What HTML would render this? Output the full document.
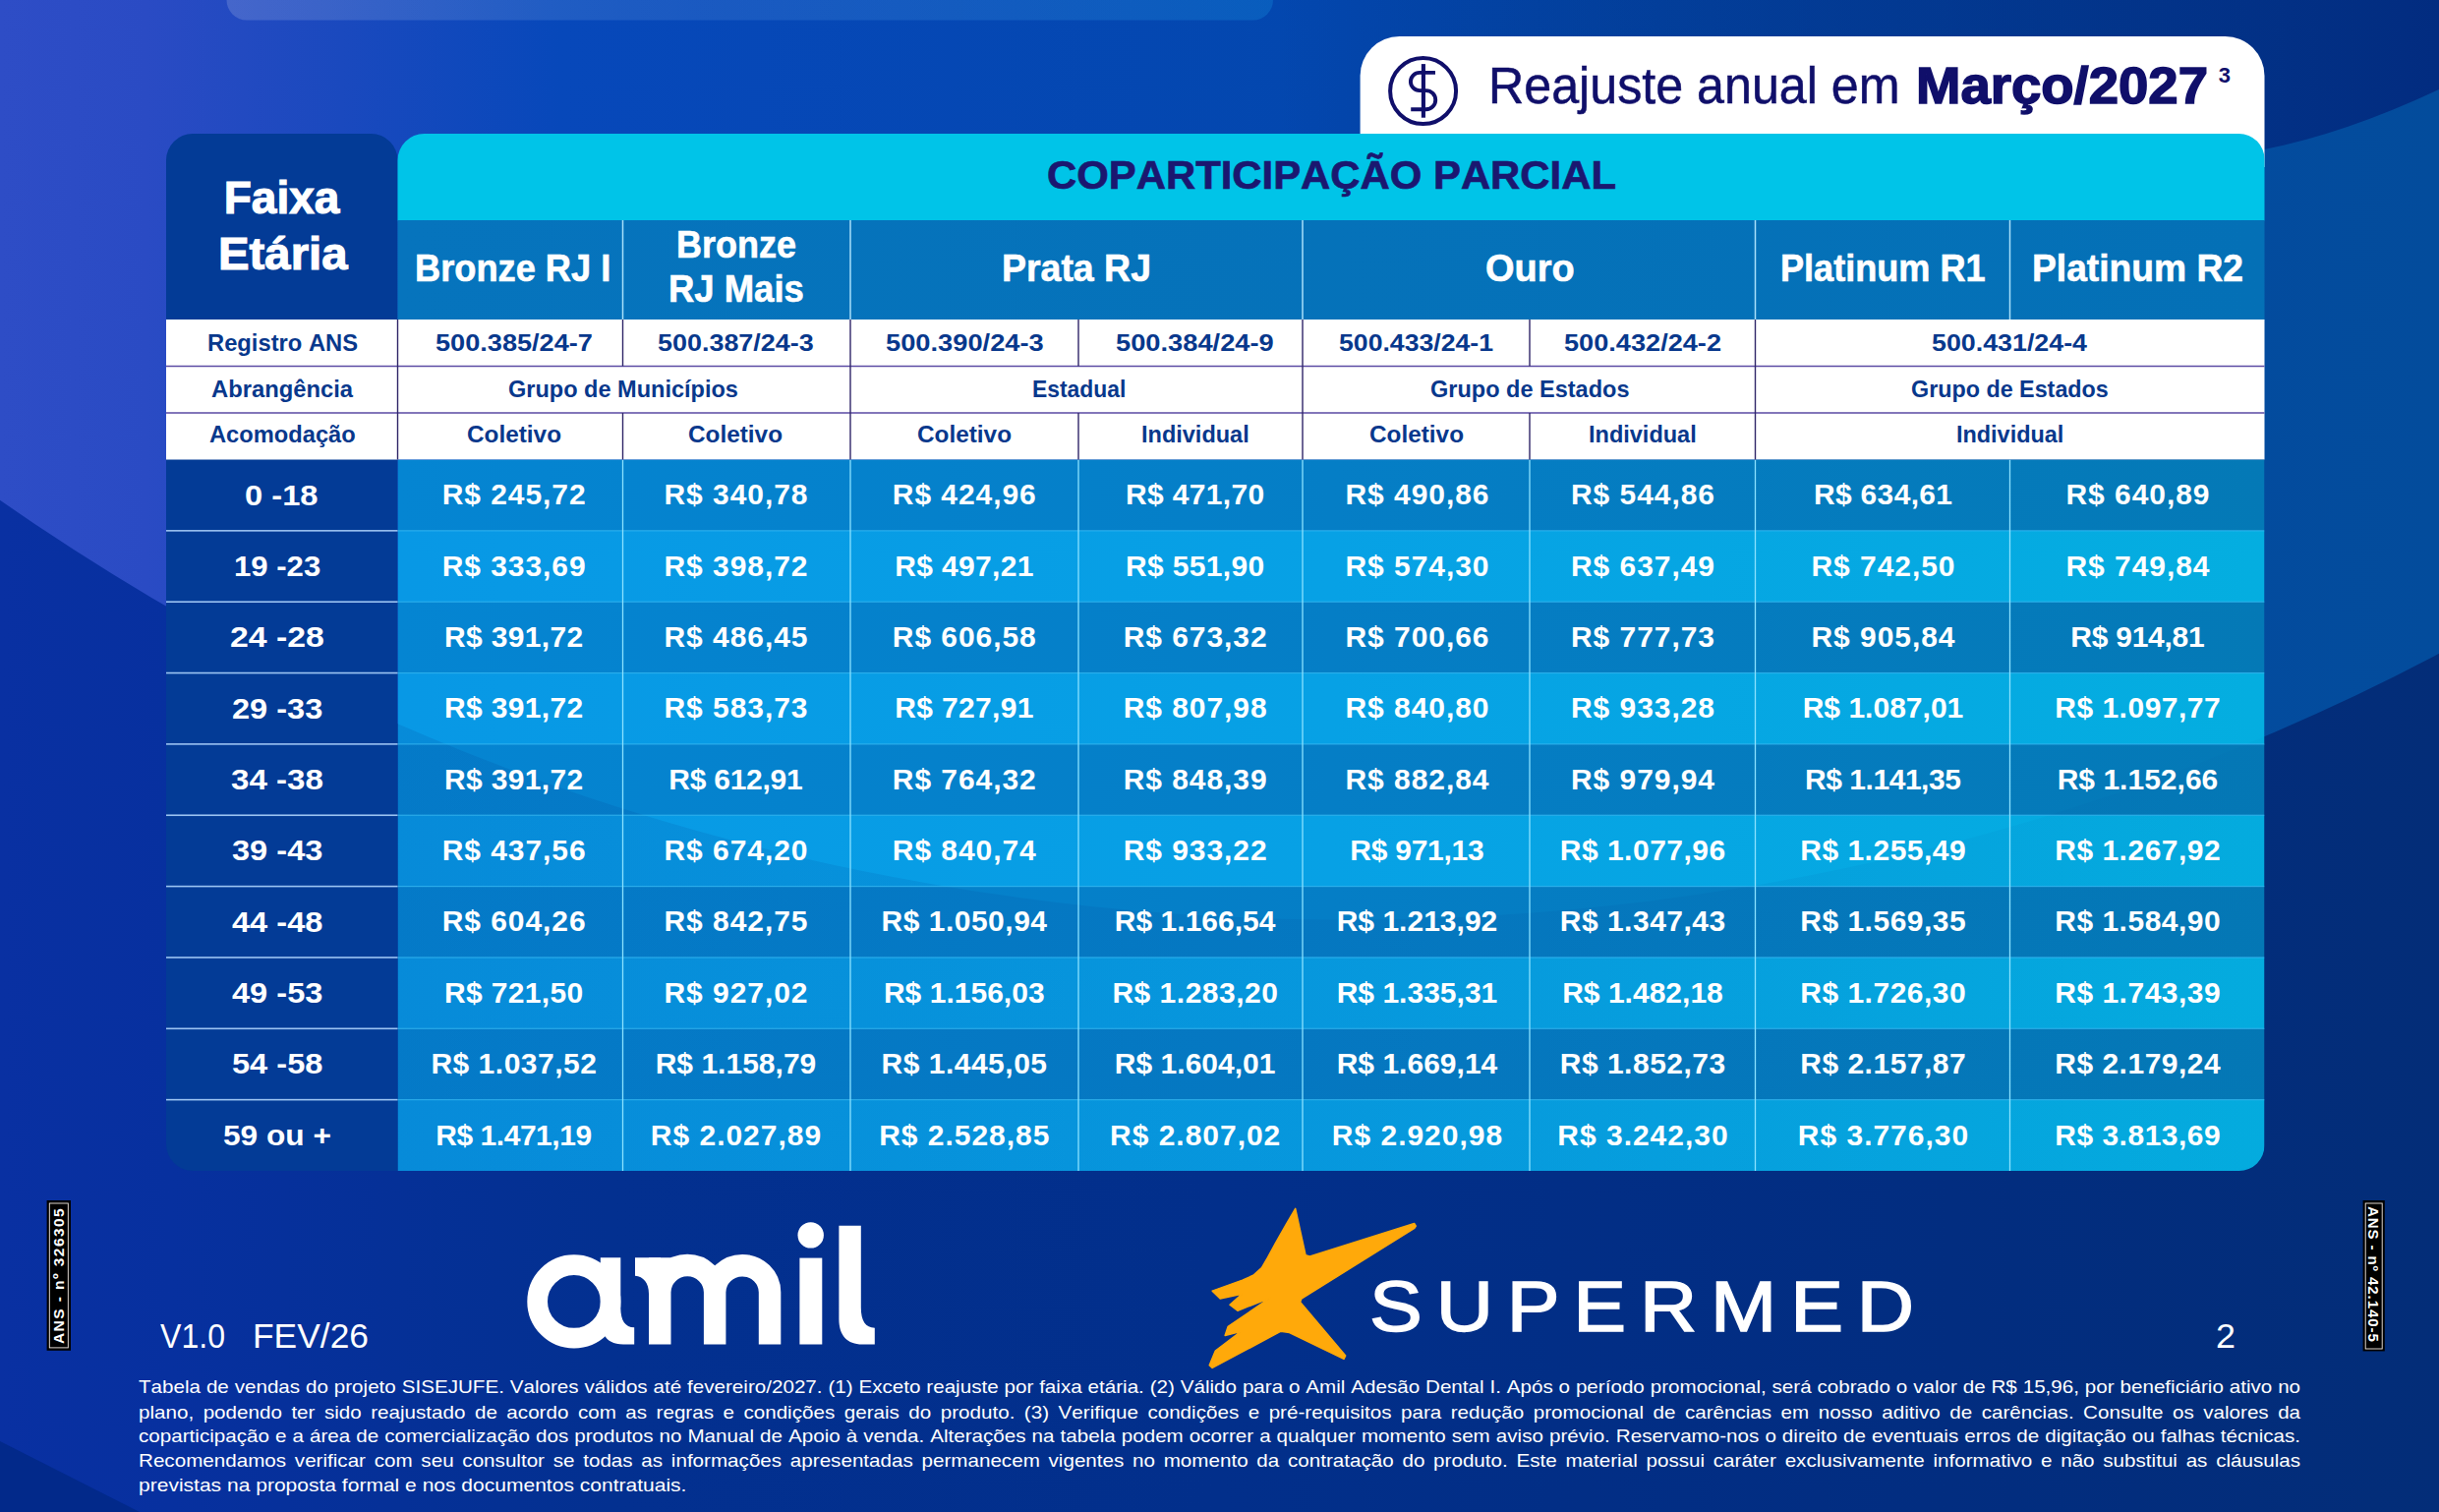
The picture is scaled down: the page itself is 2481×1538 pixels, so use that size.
<!DOCTYPE html>
<html lang="pt-BR"><head><meta charset="utf-8"><title>Tabela Amil Supermed - Coparticipação Parcial</title>
<style>
html,body{margin:0;padding:0}
body{width:2481px;height:1538px;position:relative;overflow:hidden;background:#03318e;font-family:"Liberation Sans",sans-serif;font-kerning:none}
.a{position:absolute}
.t{position:absolute;white-space:nowrap;font-weight:700;line-height:1em;height:1em;font-family:"Liberation Sans",sans-serif}
.f{position:absolute;left:140.7px;width:2199.1px;height:19px;line-height:19px;font-size:19px;color:#fff;white-space:nowrap;text-align:justify;text-align-last:justify;font-family:"Liberation Sans",sans-serif}
svg{position:absolute;left:0;top:0}

</style></head><body>
<svg width="2481" height="1538" viewBox="0 0 2481 1538">
<defs>
<linearGradient id="gA" x1="0" y1="0" x2="2481" y2="0" gradientUnits="userSpaceOnUse">
<stop offset="0" stop-color="#2e4dc6"/><stop offset="0.06" stop-color="#2a4bc4"/><stop offset="0.14" stop-color="#1a49be"/><stop offset="0.23" stop-color="#0748ba"/><stop offset="0.55" stop-color="#0347ae"/><stop offset="0.85" stop-color="#034ba0"/><stop offset="1" stop-color="#034c9c"/>
</linearGradient>
<linearGradient id="gT" x1="1300" y1="0" x2="2481" y2="0" gradientUnits="userSpaceOnUse">
<stop offset="0" stop-color="#022c80" stop-opacity="0"/><stop offset="0.5" stop-color="#022f88" stop-opacity="0.6"/><stop offset="1" stop-color="#022c80" stop-opacity="1"/>
</linearGradient>
<linearGradient id="gC" x1="0" y1="0" x2="2481" y2="0" gradientUnits="userSpaceOnUse">
<stop offset="0" stop-color="#0930a2"/><stop offset="0.07" stop-color="#07309f"/><stop offset="0.25" stop-color="#033090"/><stop offset="0.5" stop-color="#022f8b"/><stop offset="0.8" stop-color="#022d80"/><stop offset="1" stop-color="#032d78"/>
</linearGradient>
<linearGradient id="gP" x1="230" y1="0" x2="1292" y2="0" gradientUnits="userSpaceOnUse">
<stop offset="0" stop-color="#ffffff" stop-opacity="0.155"/><stop offset="0.45" stop-color="#a0d0ff" stop-opacity="0.13"/><stop offset="1" stop-color="#20c0ff" stop-opacity="0.18"/>
</linearGradient>
</defs>
<rect width="2481" height="1538" fill="url(#gA)"/>
<path d="M1300,0 L2481,0 L2481,91 Q2385,136 2303,152 Q2150,215 2000,330 L1300,330 Z" fill="url(#gT)"/>
<path d="M-5,505.3 L35,532.8 L75,559.1 L115,584.3 L155,608.4 L195,631.5 L235,653.5 L275,674.6 L315,694.7 L355,713.8 L395,732.0 L435,749.3 L475,765.7 L515,781.3 L555,796.0 L595,809.9 L635,823.0 L675,835.3 L715,846.8 L755,857.6 L795,867.6 L835,876.9 L875,885.5 L915,893.3 L955,900.5 L995,907.0 L1035,912.8 L1075,917.9 L1115,922.4 L1155,926.2 L1195,929.4 L1235,931.9 L1275,933.7 L1315,934.9 L1355,935.5 L1395,935.5 L1435,934.7 L1475,933.4 L1515,931.4 L1555,928.7 L1595,925.4 L1635,921.5 L1675,916.9 L1715,911.6 L1755,905.6 L1795,898.9 L1835,891.6 L1875,883.5 L1915,874.7 L1955,865.2 L1995,855.0 L2035,844.0 L2075,832.2 L2115,819.6 L2155,806.2 L2195,792.0 L2235,777.0 L2275,761.1 L2315,744.3 L2355,726.6 L2395,708.0 L2435,688.4 L2475,667.9 L2486,662.1 L2481,1538 L0,1538 Z" fill="url(#gC)"/>
<path d="M0,1466 L142,1538 L0,1538 Z" fill="#02298a"/>
<path d="M230.5,0 H1295 A20.5,20.5 0 0 1 1274.5,20.5 H251 A20.5,20.5 0 0 1 230.5,0 Z" fill="url(#gP)"/>
</svg>
<svg width="2481" height="1538" viewBox="0 0 2481 1538">
<defs>
<linearGradient id="gD" x1="404" y1="0" x2="2304" y2="0" gradientUnits="userSpaceOnUse"><stop offset="0" stop-color="#0585d2"/><stop offset="0.5" stop-color="#057ec6"/><stop offset="1" stop-color="#0479b6"/></linearGradient>
<linearGradient id="gL" x1="404" y1="0" x2="2304" y2="0" gradientUnits="userSpaceOnUse"><stop offset="0" stop-color="#0898e5"/><stop offset="0.5" stop-color="#07a1e5"/><stop offset="1" stop-color="#04aee0"/></linearGradient>
<linearGradient id="gH" x1="404" y1="0" x2="2304" y2="0" gradientUnits="userSpaceOnUse"><stop offset="0" stop-color="#0674bd"/><stop offset="1" stop-color="#0470b6"/></linearGradient>
<linearGradient id="gW" x1="404" y1="0" x2="2304" y2="0" gradientUnits="userSpaceOnUse"><stop offset="0" stop-color="#002a80" stop-opacity="0.12"/><stop offset="0.6" stop-color="#002a80" stop-opacity="0.07"/><stop offset="1" stop-color="#002a80" stop-opacity="0.02"/></linearGradient>
<clipPath id="cpD"><path d="M404.5,467.5 H2303.5 V1165 A26,26 0 0 1 2277.5,1191 H404.5 Z"/></clipPath>
</defs>
<path d="M1383.6,160 V77 A40,40 0 0 1 1423.6,37 H2263.5 A40,40 0 0 1 2303.5,77 V170 H1383.6 Z" fill="#ffffff"/>
<path d="M169,163 A27,27 0 0 1 196,136 H377.5 A27,27 0 0 1 404.5,163 V1191 H196 A27,27 0 0 1 169,1164 Z" fill="#033b96"/>
<path d="M404.5,224.5 V163 A27,27 0 0 1 431.5,136 H2277.5 A26,26 0 0 1 2303.5,162 V224.5 Z" fill="#00c4e8"/>
<rect x="404.5" y="224" width="1899" height="101.5" fill="url(#gH)"/>
<rect x="169" y="325" width="2134.5" height="142.5" fill="#ffffff"/>
<g clip-path="url(#cpD)">
<rect x="404.5" y="467.50" width="1899" height="72.85" fill="url(#gD)"/>
<rect x="404.5" y="539.85" width="1899" height="72.85" fill="url(#gL)"/>
<rect x="404.5" y="612.20" width="1899" height="72.85" fill="url(#gD)"/>
<rect x="404.5" y="684.55" width="1899" height="72.85" fill="url(#gL)"/>
<rect x="404.5" y="756.90" width="1899" height="72.85" fill="url(#gD)"/>
<rect x="404.5" y="829.25" width="1899" height="72.85" fill="url(#gL)"/>
<rect x="404.5" y="901.60" width="1899" height="72.85" fill="url(#gD)"/>
<rect x="404.5" y="973.95" width="1899" height="72.85" fill="url(#gL)"/>
<rect x="404.5" y="1046.30" width="1899" height="72.85" fill="url(#gD)"/>
<rect x="404.5" y="1118.65" width="1899" height="72.85" fill="url(#gL)"/>
<path d="M-5,505.3 L35,532.8 L75,559.1 L115,584.3 L155,608.4 L195,631.5 L235,653.5 L275,674.6 L315,694.7 L355,713.8 L395,732.0 L435,749.3 L475,765.7 L515,781.3 L555,796.0 L595,809.9 L635,823.0 L675,835.3 L715,846.8 L755,857.6 L795,867.6 L835,876.9 L875,885.5 L915,893.3 L955,900.5 L995,907.0 L1035,912.8 L1075,917.9 L1115,922.4 L1155,926.2 L1195,929.4 L1235,931.9 L1275,933.7 L1315,934.9 L1355,935.5 L1395,935.5 L1435,934.7 L1475,933.4 L1515,931.4 L1555,928.7 L1595,925.4 L1635,921.5 L1675,916.9 L1715,911.6 L1755,905.6 L1795,898.9 L1835,891.6 L1875,883.5 L1915,874.7 L1955,865.2 L1995,855.0 L2035,844.0 L2075,832.2 L2115,819.6 L2155,806.2 L2195,792.0 L2235,777.0 L2275,761.1 L2315,744.3 L2355,726.6 L2395,708.0 L2435,688.4 L2475,667.9 L2486,662.1 L2481,1538 L0,1538 Z" fill="url(#gW)"/>
<rect x="404.5" y="539.25" width="1899" height="1.2" fill="#35b8f2" fill-opacity="0.75"/>
<rect x="404.5" y="611.60" width="1899" height="1.2" fill="#35b8f2" fill-opacity="0.75"/>
<rect x="404.5" y="683.95" width="1899" height="1.2" fill="#35b8f2" fill-opacity="0.75"/>
<rect x="404.5" y="756.30" width="1899" height="1.2" fill="#35b8f2" fill-opacity="0.75"/>
<rect x="404.5" y="828.65" width="1899" height="1.2" fill="#35b8f2" fill-opacity="0.75"/>
<rect x="404.5" y="901.00" width="1899" height="1.2" fill="#35b8f2" fill-opacity="0.75"/>
<rect x="404.5" y="973.35" width="1899" height="1.2" fill="#35b8f2" fill-opacity="0.75"/>
<rect x="404.5" y="1045.70" width="1899" height="1.2" fill="#35b8f2" fill-opacity="0.75"/>
<rect x="404.5" y="1118.05" width="1899" height="1.2" fill="#35b8f2" fill-opacity="0.75"/>
<rect x="632.85" y="467.5" width="1.3" height="724" fill="#8be2ff"/>
<rect x="864.35" y="467.5" width="1.3" height="724" fill="#8be2ff"/>
<rect x="1096.35" y="467.5" width="1.3" height="724" fill="#8be2ff"/>
<rect x="1324.35" y="467.5" width="1.3" height="724" fill="#8be2ff"/>
<rect x="1555.35" y="467.5" width="1.3" height="724" fill="#8be2ff"/>
<rect x="1784.85" y="467.5" width="1.3" height="724" fill="#8be2ff"/>
<rect x="2043.85" y="467.5" width="1.3" height="724" fill="#8be2ff"/>
</g>
<rect x="632.75" y="224" width="1.5" height="101" fill="#a8e0fa"/>
<rect x="864.25" y="224" width="1.5" height="101" fill="#a8e0fa"/>
<rect x="1324.25" y="224" width="1.5" height="101" fill="#a8e0fa"/>
<rect x="1784.75" y="224" width="1.5" height="101" fill="#a8e0fa"/>
<rect x="2043.75" y="224" width="1.5" height="101" fill="#a8e0fa"/>
<rect x="169" y="539.05" width="235.5" height="1.6" fill="#9cc4f2"/>
<rect x="169" y="611.40" width="235.5" height="1.6" fill="#9cc4f2"/>
<rect x="169" y="683.75" width="235.5" height="1.6" fill="#9cc4f2"/>
<rect x="169" y="756.10" width="235.5" height="1.6" fill="#9cc4f2"/>
<rect x="169" y="828.45" width="235.5" height="1.6" fill="#9cc4f2"/>
<rect x="169" y="900.80" width="235.5" height="1.6" fill="#9cc4f2"/>
<rect x="169" y="973.15" width="235.5" height="1.6" fill="#9cc4f2"/>
<rect x="169" y="1045.50" width="235.5" height="1.6" fill="#9cc4f2"/>
<rect x="169" y="1117.85" width="235.5" height="1.6" fill="#9cc4f2"/>
<rect x="169" y="371.75" width="2134.5" height="1.5" fill="#5b4ba4"/>
<rect x="169" y="419.25" width="2134.5" height="1.5" fill="#5b4ba4"/>
<rect x="403.80" y="325" width="1.4" height="142.5" fill="#2f2668"/>
<rect x="864.30" y="325" width="1.4" height="142.5" fill="#2f2668"/>
<rect x="1324.30" y="325" width="1.4" height="142.5" fill="#2f2668"/>
<rect x="1784.80" y="325" width="1.4" height="142.5" fill="#2f2668"/>
<rect x="632.80" y="325" width="1.4" height="47.5" fill="#2f2668"/>
<rect x="632.80" y="420" width="1.4" height="47.5" fill="#2f2668"/>
<rect x="1096.30" y="325" width="1.4" height="47.5" fill="#2f2668"/>
<rect x="1096.30" y="420" width="1.4" height="47.5" fill="#2f2668"/>
<rect x="1555.30" y="325" width="1.4" height="47.5" fill="#2f2668"/>
<rect x="1555.30" y="420" width="1.4" height="47.5" fill="#2f2668"/>
</svg>
<div class="t" style="left:227.75px;top:177.66px;font-size:46px;color:#fff;-webkit-text-stroke:1.10px #fff;">Faixa</div>
<div class="t" style="left:221.75px;top:234.76px;font-size:46px;color:#fff;transform:scaleX(1.0286);transform-origin:left center;-webkit-text-stroke:1.10px #fff;">Etária</div>
<div class="t" style="left:1065.20px;top:156.77px;font-size:41.5px;color:#1b1770;transform:scaleX(1.0085);transform-origin:left center;-webkit-text-stroke:0.66px #1b1770;">COPARTICIPAÇÃO PARCIAL</div>
<div class="t" style="left:422.20px;top:252.99px;font-size:39px;color:#fff;transform:scaleX(0.9290);transform-origin:left center;-webkit-text-stroke:0.62px #fff;">Bronze RJ I</div>
<div class="t" style="left:688.20px;top:230.31px;font-size:38.5px;color:#fff;transform:scaleX(0.9350);transform-origin:left center;-webkit-text-stroke:0.62px #fff;">Bronze</div>
<div class="t" style="left:680.30px;top:274.61px;font-size:38.5px;color:#fff;transform:scaleX(0.9471);transform-origin:left center;-webkit-text-stroke:0.62px #fff;">RJ Mais</div>
<div class="t" style="left:1019.00px;top:252.99px;font-size:39px;color:#fff;transform:scaleX(0.9605);transform-origin:left center;-webkit-text-stroke:0.62px #fff;">Prata RJ</div>
<div class="t" style="left:1510.60px;top:252.99px;font-size:39px;color:#fff;transform:scaleX(0.9725);transform-origin:left center;-webkit-text-stroke:0.62px #fff;">Ouro</div>
<div class="t" style="left:1811.00px;top:252.69px;font-size:39px;color:#fff;transform:scaleX(0.9256);transform-origin:left center;-webkit-text-stroke:0.62px #fff;">Platinum R1</div>
<div class="t" style="left:2067.10px;top:252.69px;font-size:39px;color:#fff;transform:scaleX(0.9540);transform-origin:left center;-webkit-text-stroke:0.62px #fff;">Platinum R2</div>
<div class="t" style="left:210.60px;top:336.68px;font-size:24px;color:#08388c;transform:scaleX(0.9891);transform-origin:left center;">Registro ANS</div>
<div class="t" style="left:214.95px;top:383.58px;font-size:24px;color:#08388c;transform:scaleX(0.9913);transform-origin:left center;">Abrangência</div>
<div class="t" style="left:212.65px;top:430.08px;font-size:24px;color:#08388c;transform:scaleX(0.9867);transform-origin:left center;">Acomodação</div>
<div class="t" style="left:443.05px;top:336.68px;font-size:24px;color:#08388c;transform:scaleX(1.1304);transform-origin:left center;">500.385/24-7</div>
<div class="t" style="left:669.05px;top:336.68px;font-size:24px;color:#08388c;transform:scaleX(1.1219);transform-origin:left center;">500.387/24-3</div>
<div class="t" style="left:900.85px;top:336.68px;font-size:24px;color:#08388c;transform:scaleX(1.1360);transform-origin:left center;">500.390/24-3</div>
<div class="t" style="left:1135.35px;top:336.68px;font-size:24px;color:#08388c;transform:scaleX(1.1360);transform-origin:left center;">500.384/24-9</div>
<div class="t" style="left:1362.40px;top:336.68px;font-size:24px;color:#08388c;transform:scaleX(1.1099);transform-origin:left center;">500.433/24-1</div>
<div class="t" style="left:1591.20px;top:336.68px;font-size:24px;color:#08388c;transform:scaleX(1.1311);transform-origin:left center;">500.432/24-2</div>
<div class="t" style="left:1965.20px;top:336.68px;font-size:24px;color:#08388c;transform:scaleX(1.1169);transform-origin:left center;">500.431/24-4</div>
<div class="t" style="left:516.85px;top:383.58px;font-size:24px;color:#08388c;transform:scaleX(0.9800);transform-origin:left center;">Grupo de Municípios</div>
<div class="t" style="left:1049.55px;top:383.58px;font-size:24px;color:#08388c;transform:scaleX(0.9527);transform-origin:left center;">Estadual</div>
<div class="t" style="left:1454.75px;top:383.58px;font-size:24px;color:#08388c;transform:scaleX(0.9797);transform-origin:left center;">Grupo de Estados</div>
<div class="t" style="left:1944.00px;top:383.58px;font-size:24px;color:#08388c;transform:scaleX(0.9715);transform-origin:left center;">Grupo de Estados</div>
<div class="t" style="left:474.80px;top:430.08px;font-size:24px;color:#08388c;transform:scaleX(1.0140);transform-origin:left center;">Coletivo</div>
<div class="t" style="left:700.40px;top:430.08px;font-size:24px;color:#08388c;transform:scaleX(1.0140);transform-origin:left center;">Coletivo</div>
<div class="t" style="left:933.20px;top:430.08px;font-size:24px;color:#08388c;transform:scaleX(1.0140);transform-origin:left center;">Coletivo</div>
<div class="t" style="left:1160.65px;top:430.08px;font-size:24px;color:#08388c;transform:scaleX(0.9794);transform-origin:left center;">Individual</div>
<div class="t" style="left:1392.50px;top:430.08px;font-size:24px;color:#08388c;transform:scaleX(1.0140);transform-origin:left center;">Coletivo</div>
<div class="t" style="left:1615.85px;top:430.08px;font-size:24px;color:#08388c;transform:scaleX(0.9794);transform-origin:left center;">Individual</div>
<div class="t" style="left:1989.75px;top:430.08px;font-size:24px;color:#08388c;transform:scaleX(0.9758);transform-origin:left center;">Individual</div>
<div class="t" style="left:249.15px;top:488.58px;font-size:30px;color:#fff;transform:scaleX(1.0895);transform-origin:left center;">0 -18</div>
<div class="t" style="left:449.70px;top:488.38px;font-size:30px;color:#fff;letter-spacing:0.94px;">R$ 245,72</div>
<div class="t" style="left:675.50px;top:488.38px;font-size:30px;color:#fff;letter-spacing:0.94px;">R$ 340,78</div>
<div class="t" style="left:907.80px;top:488.38px;font-size:30px;color:#fff;letter-spacing:0.94px;">R$ 424,96</div>
<div class="t" style="left:1145.10px;top:488.38px;font-size:30px;color:#fff;letter-spacing:0.34px;">R$ 471,70</div>
<div class="t" style="left:1368.50px;top:488.38px;font-size:30px;color:#fff;letter-spacing:0.94px;">R$ 490,86</div>
<div class="t" style="left:1598.00px;top:488.38px;font-size:30px;color:#fff;letter-spacing:0.94px;">R$ 544,86</div>
<div class="t" style="left:1844.90px;top:488.38px;font-size:30px;color:#fff;letter-spacing:0.34px;">R$ 634,61</div>
<div class="t" style="left:2101.50px;top:488.38px;font-size:30px;color:#fff;letter-spacing:0.94px;">R$ 640,89</div>
<div class="t" style="left:238.30px;top:560.93px;font-size:30px;color:#fff;transform:scaleX(1.0369);transform-origin:left center;">19 -23</div>
<div class="t" style="left:449.70px;top:560.73px;font-size:30px;color:#fff;letter-spacing:0.94px;">R$ 333,69</div>
<div class="t" style="left:675.50px;top:560.73px;font-size:30px;color:#fff;letter-spacing:0.94px;">R$ 398,72</div>
<div class="t" style="left:910.20px;top:560.73px;font-size:30px;color:#fff;letter-spacing:0.34px;">R$ 497,21</div>
<div class="t" style="left:1145.10px;top:560.73px;font-size:30px;color:#fff;letter-spacing:0.34px;">R$ 551,90</div>
<div class="t" style="left:1368.50px;top:560.73px;font-size:30px;color:#fff;letter-spacing:0.94px;">R$ 574,30</div>
<div class="t" style="left:1598.00px;top:560.73px;font-size:30px;color:#fff;letter-spacing:0.94px;">R$ 637,49</div>
<div class="t" style="left:1842.50px;top:560.73px;font-size:30px;color:#fff;letter-spacing:0.94px;">R$ 742,50</div>
<div class="t" style="left:2101.50px;top:560.73px;font-size:30px;color:#fff;letter-spacing:0.94px;">R$ 749,84</div>
<div class="t" style="left:234.45px;top:633.28px;font-size:30px;color:#fff;transform:scaleX(1.1274);transform-origin:left center;">24 -28</div>
<div class="t" style="left:452.10px;top:633.08px;font-size:30px;color:#fff;letter-spacing:0.34px;">R$ 391,72</div>
<div class="t" style="left:675.50px;top:633.08px;font-size:30px;color:#fff;letter-spacing:0.94px;">R$ 486,45</div>
<div class="t" style="left:907.80px;top:633.08px;font-size:30px;color:#fff;letter-spacing:0.94px;">R$ 606,58</div>
<div class="t" style="left:1142.70px;top:633.08px;font-size:30px;color:#fff;letter-spacing:0.94px;">R$ 673,32</div>
<div class="t" style="left:1368.50px;top:633.08px;font-size:30px;color:#fff;letter-spacing:0.94px;">R$ 700,66</div>
<div class="t" style="left:1598.00px;top:633.08px;font-size:30px;color:#fff;letter-spacing:0.94px;">R$ 777,73</div>
<div class="t" style="left:1842.50px;top:633.08px;font-size:30px;color:#fff;letter-spacing:0.94px;">R$ 905,84</div>
<div class="t" style="left:2106.30px;top:633.08px;font-size:30px;color:#fff;letter-spacing:-0.26px;">R$ 914,81</div>
<div class="t" style="left:236.25px;top:705.63px;font-size:30px;color:#fff;transform:scaleX(1.0851);transform-origin:left center;">29 -33</div>
<div class="t" style="left:452.10px;top:705.43px;font-size:30px;color:#fff;letter-spacing:0.34px;">R$ 391,72</div>
<div class="t" style="left:675.50px;top:705.43px;font-size:30px;color:#fff;letter-spacing:0.94px;">R$ 583,73</div>
<div class="t" style="left:910.20px;top:705.43px;font-size:30px;color:#fff;letter-spacing:0.34px;">R$ 727,91</div>
<div class="t" style="left:1142.70px;top:705.43px;font-size:30px;color:#fff;letter-spacing:0.94px;">R$ 807,98</div>
<div class="t" style="left:1368.50px;top:705.43px;font-size:30px;color:#fff;letter-spacing:0.94px;">R$ 840,80</div>
<div class="t" style="left:1598.00px;top:705.43px;font-size:30px;color:#fff;letter-spacing:0.94px;">R$ 933,28</div>
<div class="t" style="left:1833.65px;top:705.43px;font-size:30px;color:#fff;letter-spacing:0.02px;">R$ 1.087,01</div>
<div class="t" style="left:2090.25px;top:705.43px;font-size:30px;color:#fff;letter-spacing:0.50px;">R$ 1.097,77</div>
<div class="t" style="left:235.40px;top:777.98px;font-size:30px;color:#fff;transform:scaleX(1.1050);transform-origin:left center;">34 -38</div>
<div class="t" style="left:452.10px;top:777.78px;font-size:30px;color:#fff;letter-spacing:0.34px;">R$ 391,72</div>
<div class="t" style="left:680.30px;top:777.78px;font-size:30px;color:#fff;letter-spacing:-0.26px;">R$ 612,91</div>
<div class="t" style="left:907.80px;top:777.78px;font-size:30px;color:#fff;letter-spacing:0.94px;">R$ 764,32</div>
<div class="t" style="left:1142.70px;top:777.78px;font-size:30px;color:#fff;letter-spacing:0.94px;">R$ 848,39</div>
<div class="t" style="left:1368.50px;top:777.78px;font-size:30px;color:#fff;letter-spacing:0.94px;">R$ 882,84</div>
<div class="t" style="left:1598.00px;top:777.78px;font-size:30px;color:#fff;letter-spacing:0.94px;">R$ 979,94</div>
<div class="t" style="left:1836.05px;top:777.78px;font-size:30px;color:#fff;letter-spacing:-0.46px;">R$ 1.141,35</div>
<div class="t" style="left:2092.65px;top:777.78px;font-size:30px;color:#fff;letter-spacing:0.02px;">R$ 1.152,66</div>
<div class="t" style="left:236.20px;top:850.33px;font-size:30px;color:#fff;transform:scaleX(1.0862);transform-origin:left center;">39 -43</div>
<div class="t" style="left:449.70px;top:850.13px;font-size:30px;color:#fff;letter-spacing:0.94px;">R$ 437,56</div>
<div class="t" style="left:675.50px;top:850.13px;font-size:30px;color:#fff;letter-spacing:0.94px;">R$ 674,20</div>
<div class="t" style="left:907.80px;top:850.13px;font-size:30px;color:#fff;letter-spacing:0.94px;">R$ 840,74</div>
<div class="t" style="left:1142.70px;top:850.13px;font-size:30px;color:#fff;letter-spacing:0.94px;">R$ 933,22</div>
<div class="t" style="left:1373.30px;top:850.13px;font-size:30px;color:#fff;letter-spacing:-0.26px;">R$ 971,13</div>
<div class="t" style="left:1586.75px;top:850.13px;font-size:30px;color:#fff;letter-spacing:0.50px;">R$ 1.077,96</div>
<div class="t" style="left:1831.25px;top:850.13px;font-size:30px;color:#fff;letter-spacing:0.50px;">R$ 1.255,49</div>
<div class="t" style="left:2090.25px;top:850.13px;font-size:30px;color:#fff;letter-spacing:0.50px;">R$ 1.267,92</div>
<div class="t" style="left:236.20px;top:922.68px;font-size:30px;color:#fff;transform:scaleX(1.0862);transform-origin:left center;">44 -48</div>
<div class="t" style="left:449.70px;top:922.48px;font-size:30px;color:#fff;letter-spacing:0.94px;">R$ 604,26</div>
<div class="t" style="left:675.50px;top:922.48px;font-size:30px;color:#fff;letter-spacing:0.94px;">R$ 842,75</div>
<div class="t" style="left:896.55px;top:922.48px;font-size:30px;color:#fff;letter-spacing:0.50px;">R$ 1.050,94</div>
<div class="t" style="left:1133.85px;top:922.48px;font-size:30px;color:#fff;letter-spacing:0.02px;">R$ 1.166,54</div>
<div class="t" style="left:1359.65px;top:922.48px;font-size:30px;color:#fff;letter-spacing:0.02px;">R$ 1.213,92</div>
<div class="t" style="left:1586.75px;top:922.48px;font-size:30px;color:#fff;letter-spacing:0.50px;">R$ 1.347,43</div>
<div class="t" style="left:1831.25px;top:922.48px;font-size:30px;color:#fff;letter-spacing:0.50px;">R$ 1.569,35</div>
<div class="t" style="left:2090.25px;top:922.48px;font-size:30px;color:#fff;letter-spacing:0.50px;">R$ 1.584,90</div>
<div class="t" style="left:236.20px;top:995.03px;font-size:30px;color:#fff;transform:scaleX(1.0862);transform-origin:left center;">49 -53</div>
<div class="t" style="left:452.10px;top:994.83px;font-size:30px;color:#fff;letter-spacing:0.34px;">R$ 721,50</div>
<div class="t" style="left:675.50px;top:994.83px;font-size:30px;color:#fff;letter-spacing:0.94px;">R$ 927,02</div>
<div class="t" style="left:898.95px;top:994.83px;font-size:30px;color:#fff;letter-spacing:0.02px;">R$ 1.156,03</div>
<div class="t" style="left:1131.45px;top:994.83px;font-size:30px;color:#fff;letter-spacing:0.50px;">R$ 1.283,20</div>
<div class="t" style="left:1359.65px;top:994.83px;font-size:30px;color:#fff;letter-spacing:0.02px;">R$ 1.335,31</div>
<div class="t" style="left:1589.15px;top:994.83px;font-size:30px;color:#fff;letter-spacing:0.02px;">R$ 1.482,18</div>
<div class="t" style="left:1831.25px;top:994.83px;font-size:30px;color:#fff;letter-spacing:0.50px;">R$ 1.726,30</div>
<div class="t" style="left:2090.25px;top:994.83px;font-size:30px;color:#fff;letter-spacing:0.50px;">R$ 1.743,39</div>
<div class="t" style="left:236.20px;top:1067.38px;font-size:30px;color:#fff;transform:scaleX(1.0862);transform-origin:left center;">54 -58</div>
<div class="t" style="left:438.45px;top:1067.18px;font-size:30px;color:#fff;letter-spacing:0.50px;">R$ 1.037,52</div>
<div class="t" style="left:666.65px;top:1067.18px;font-size:30px;color:#fff;letter-spacing:0.02px;">R$ 1.158,79</div>
<div class="t" style="left:896.55px;top:1067.18px;font-size:30px;color:#fff;letter-spacing:0.50px;">R$ 1.445,05</div>
<div class="t" style="left:1133.85px;top:1067.18px;font-size:30px;color:#fff;letter-spacing:0.02px;">R$ 1.604,01</div>
<div class="t" style="left:1359.65px;top:1067.18px;font-size:30px;color:#fff;letter-spacing:0.02px;">R$ 1.669,14</div>
<div class="t" style="left:1586.75px;top:1067.18px;font-size:30px;color:#fff;letter-spacing:0.50px;">R$ 1.852,73</div>
<div class="t" style="left:1831.25px;top:1067.18px;font-size:30px;color:#fff;letter-spacing:0.50px;">R$ 2.157,87</div>
<div class="t" style="left:2090.25px;top:1067.18px;font-size:30px;color:#fff;letter-spacing:0.50px;">R$ 2.179,24</div>
<div class="t" style="left:227.40px;top:1139.73px;font-size:30px;color:#fff;transform:scaleX(1.0556);transform-origin:left center;">59 ou +</div>
<div class="t" style="left:443.25px;top:1139.53px;font-size:30px;color:#fff;letter-spacing:-0.46px;">R$ 1.471,19</div>
<div class="t" style="left:661.85px;top:1139.53px;font-size:30px;color:#fff;letter-spacing:0.98px;">R$ 2.027,89</div>
<div class="t" style="left:894.15px;top:1139.53px;font-size:30px;color:#fff;letter-spacing:0.98px;">R$ 2.528,85</div>
<div class="t" style="left:1129.05px;top:1139.53px;font-size:30px;color:#fff;letter-spacing:0.98px;">R$ 2.807,02</div>
<div class="t" style="left:1354.85px;top:1139.53px;font-size:30px;color:#fff;letter-spacing:0.98px;">R$ 2.920,98</div>
<div class="t" style="left:1584.35px;top:1139.53px;font-size:30px;color:#fff;letter-spacing:0.98px;">R$ 3.242,30</div>
<div class="t" style="left:1828.85px;top:1139.53px;font-size:30px;color:#fff;letter-spacing:0.98px;">R$ 3.776,30</div>
<div class="t" style="left:2090.25px;top:1139.53px;font-size:30px;color:#fff;letter-spacing:0.50px;">R$ 3.813,69</div>
<div class="t" style="left:1514.40px;top:61.53px;font-size:51px;color:#100f6a;font-weight:400;transform:scaleX(0.9843);transform-origin:left center;-webkit-text-stroke:0.50px #100f6a;">Reajuste anual em</div>
<div class="t" style="left:1948.90px;top:61.83px;font-size:51px;color:#100f6a;transform:scaleX(1.0690);transform-origin:left center;-webkit-text-stroke:1.50px #100f6a;">Março/2027</div>
<div class="t" style="left:2256.70px;top:65.68px;font-size:22px;color:#100f6a;">3</div>
<div class="t" style="left:163.00px;top:1340.87px;font-size:35px;color:#fff;font-weight:400;transform:scaleX(0.9167);transform-origin:left center;">V1.0</div>
<div class="t" style="left:257.00px;top:1340.87px;font-size:35px;color:#fff;font-weight:400;transform:scaleX(1.0109);transform-origin:left center;">FEV/26</div>
<div class="t" style="left:2254.00px;top:1340.87px;font-size:35px;color:#fff;font-weight:400;transform:scaleX(1.0275);transform-origin:left center;">2</div>
<div class="t" style="left:1392.50px;top:1292.95px;font-size:72px;color:#fff;font-weight:400;transform:scaleX(1.1200);transform-origin:left center;letter-spacing:12.37px;-webkit-text-stroke:1.50px #fff;">SUPERMED</div>
<div class="f" style="top:1401.42px;width:2026.82px;transform:scaleX(1.0850);transform-origin:left center;">Tabela de vendas do projeto SISEJUFE. Valores válidos até fevereiro/2027. (1) Exceto reajuste por faixa etária. (2) Válido para o Amil Adesão Dental I. Após o período promocional, será cobrado o valor de R$ 15,96, por beneficiário ativo no</div>
<div class="f" style="top:1426.52px;width:2026.82px;transform:scaleX(1.0850);transform-origin:left center;">plano, podendo ter sido reajustado de acordo com as regras e condições gerais do produto. (3) Verifique condições e pré-requisitos para redução promocional de carências em nosso aditivo de carências. Consulte os valores da</div>
<div class="f" style="top:1451.42px;width:2026.82px;transform:scaleX(1.0850);transform-origin:left center;">coparticipação e a área de comercialização dos produtos no Manual de Apoio à venda. Alterações na tabela podem ocorrer a qualquer momento sem aviso prévio. Reservamo-nos o direito de eventuais erros de digitação ou falhas técnicas.</div>
<div class="f" style="top:1476.32px;width:2026.82px;transform:scaleX(1.0850);transform-origin:left center;">Recomendamos verificar com seu consultor se todas as informações apresentadas permanecem vigentes no momento da contratação do produto. Este material possui caráter exclusivamente informativo e não substitui as cláusulas</div>
<div class="f" style="top:1501.02px;text-align:left;text-align-last:left;width:auto;transform:scaleX(1.1065);transform-origin:left center">previstas na proposta formal e nos documentos contratuais.</div>
<svg width="2481" height="1538" viewBox="0 0 2481 1538">
<g fill="none" stroke="#100f6a" stroke-width="4" stroke-linecap="butt">
<circle cx="1447.6" cy="92.6" r="33.5"/>
<path d="M1460,73.9 H1444 A9.1,9.1 0 0 0 1444,92.1 H1450.7 A9.55,9.55 0 0 1 1450.7,111.2 H1435.2" stroke-width="3.9"/>
<path d="M1447.9,65.1 V119.7" stroke-width="4.1"/>
</g>
<path d="M1317.7,1229.4 L1328.1,1276.8 L1332.4,1278.0 L1438.6,1244.4 L1440.3,1247.1 L1438.8,1249.3 L1323.8,1321.2 L1322.6,1324.5 L1368.7,1379.0 L1367.0,1382.4 L1311.6,1355.5 L1303.0,1354.2 L1233.2,1391.4 L1230.2,1388.7 L1236.3,1374.1 L1262.6,1354.2 L1246.1,1358.4 L1249.2,1349.3 L1292.0,1320.2 L1258.9,1333.2 L1251.0,1327.2 L1263.3,1316.3 L1241.2,1321.0 L1233.2,1313.1 L1263.8,1302.1 L1274.8,1297.2 L1283.4,1289.6 L1289.5,1279.2 L1298.1,1263.3 L1307.9,1246.2 Z" fill="#ffa90a" stroke="#ffa90a" stroke-width="1.5" stroke-linejoin="round"/>
<g fill="#ffffff">
<circle cx="583.9" cy="1323.9" r="37.25" fill="none" stroke="#ffffff" stroke-width="20.7"/>
<path d="M610.8,1279.35 H631.3 V1330.6 C631.5,1343.5 636,1350.3 645.2,1350.3 V1367.5 H634 C624,1367.5 617.5,1363.5 614.5,1357.7 L606,1345 L610.8,1330 Z"/>
<path d="M646,1279.35 H672 V1322 H660 V1316 C660,1305 654.5,1298.5 646,1297.8 Z"/>
<path d="M671.25,1367.5 V1279.35 M671.25,1314.5 A27.95,27.4 0 0 1 727.15,1314.5 V1367.5 M727.15,1314.5 A27.95,27.4 0 0 1 783.05,1314.5 V1367.5" fill="none" stroke="#ffffff" stroke-width="22.5"/>
<rect x="813.4" y="1279.6" width="22.9" height="87.9"/>
<circle cx="824.7" cy="1256.4" r="13.2"/>
<path d="M853.4,1246.8 H875.8 V1330 C875.8,1343.5 880.5,1350.7 889.8,1350.7 V1367.5 H877 C862,1367.5 853.4,1358.5 853.4,1342 Z"/>
</g>
<rect x="47.6" y="1221" width="24.4" height="152.8" fill="#000"/>
<rect x="50.3" y="1224" width="19" height="146.9" fill="none" stroke="#f4ece4" stroke-width="0.9"/>
<rect x="2403.6" y="1221" width="22.2" height="153.4" fill="#000"/>
<rect x="2406.2" y="1224" width="17" height="148" fill="none" stroke="#f4ece4" stroke-width="0.9"/>
</svg>
<div class="t" style="left:51.98px;top:1366.8px;font-size:15.5px;color:#fff;letter-spacing:1.43px;transform-origin:0 0;transform:rotate(-90deg)">ANS - nº 326305</div>
<div class="t" style="left:2422.10px;top:1227.4px;font-size:15px;color:#fff;letter-spacing:0.92px;transform-origin:0 0;transform:rotate(90deg)">ANS - nº 42.140-5</div>
</body></html>
